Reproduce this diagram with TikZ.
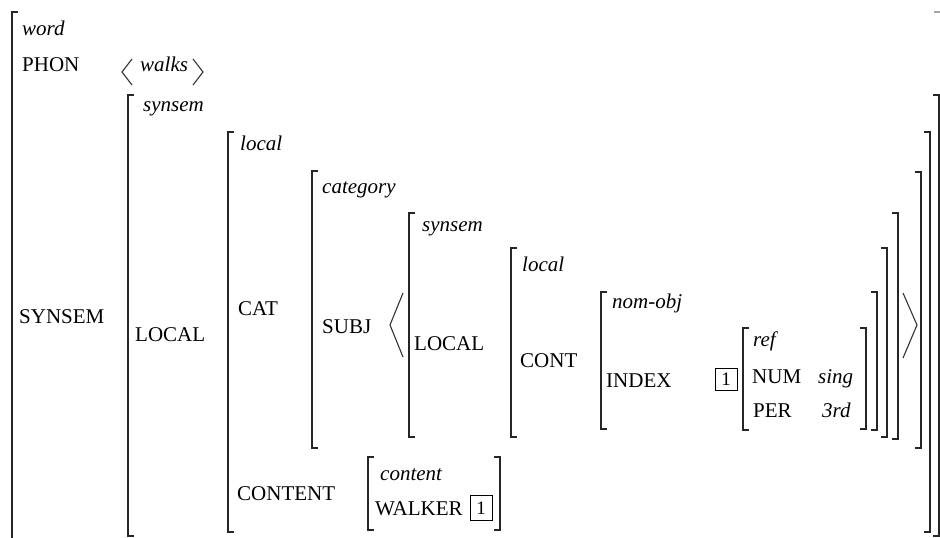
\documentclass[tikz,border=0pt]{standalone}
\usepackage{fontspec}
\setmainfont{Liberation Serif}
\newcommand\LBrk[3]{\draw[br] (#1+6,#2) -- (#1,#2) -- (#1,#3) -- (#1+6,#3);}
\newcommand\RBrk[3]{\draw[br] (#1-6,#2) -- (#1,#2) -- (#1,#3) -- (#1-6,#3);}
\begin{document}
\begin{tikzpicture}[x=1pt,y=-1pt,
  br/.style={line width=1.6pt, draw=black!85},
  ang/.style={line width=1.1pt, draw=black!80},
  lab/.style={anchor=base west, inner sep=0pt, font=\fontsize{21}{25}\selectfont},
  typ/.style={lab, font=\fontsize{21}{25}\selectfont\itshape},
  tagbox/.style={draw, line width=1pt, minimum width=22pt, minimum height=22pt, inner sep=0pt, font=\fontsize{19}{22}\selectfont}]
\useasboundingbox (0,0) rectangle (940,538);
% ---- brackets (left sides)
\draw[br] (18,12) -- (12,12) -- (12,540);        % word
\LBrk{128}{95}{536}     % synsem
\LBrk{228}{132}{532}    % local
\LBrk{312}{171}{448}    % category
\LBrk{409}{213}{437}    % inner synsem
\LBrk{511}{248}{437}    % inner local
\LBrk{601}{292}{429}    % nom-obj
\LBrk{743}{328}{430}    % ref
\LBrk{368}{457}{530}    % content
% ---- brackets (right sides)
\draw[line width=1.2pt, draw=black!35] (934,12) -- (940,12);  % word (cut off)
\RBrk{939}{95}{536}     % synsem
\RBrk{930}{132}{532}    % local
\RBrk{921}{172}{448}    % category
\RBrk{898}{213}{439}    % inner synsem
\RBrk{887}{248}{437}    % inner local
\RBrk{877}{292}{430}    % nom-obj
\RBrk{866}{328}{429}    % ref
\RBrk{500}{457}{530}    % content
% ---- angle brackets
\draw[ang] (132,59) -- (122,72) -- (132,85);
\draw[ang] (193,59) -- (203,72) -- (193,85);
\draw[ang] (403,293) -- (390,325) -- (403,357);
\draw[ang] (903,293) -- (917,325) -- (903,358);
% ---- labels
\node[typ] (tword)   at (22,35)   {word};
\node[lab] (phon)    at (22,71)   {PHON};
\node[typ] (walks)   at (140,71)  {walks};
\node[typ] (tsyn1)   at (143,111) {synsem};
\node[typ] (tloc1)   at (240,150) {local};
\node[typ] (tcat)    at (322,193) {category};
\node[typ] (tsyn2)   at (422,231) {synsem};
\node[typ] (tloc2)   at (522,271) {local};
\node[typ] (tnom)    at (612,308) {nom-obj};
\node[typ] (tref)    at (753,346) {ref};
\node[lab] (synsem)  at (19,323)  {SYNSEM};
\node[lab] (local1)  at (135,341) {LOCAL};
\node[lab] (cat)     at (238,315) {CAT};
\node[lab] (subj)    at (322,333) {SUBJ};
\node[lab] (local2)  at (414,350) {LOCAL};
\node[lab] (cont)    at (520,367) {CONT};
\node[lab] (index)   at (606,387) {INDEX};
\node[tagbox] (tag1) at (726,379) {1};
\node[lab] (num)     at (752,383) {NUM};
\node[typ] (sing)    at (818,383) {sing};
\node[lab] (per)     at (753,417) {PER};
\node[typ] (third)   at (822,417) {3rd};
\node[lab] (content) at (237,500) {CONTENT};
\node[typ] (tcont)   at (380,480) {content};
\node[lab] (walker)  at (375,515) {WALKER};
\node[tagbox, minimum height=25pt] (tag2) at (481,508) {1};
\end{tikzpicture}
\end{document}
